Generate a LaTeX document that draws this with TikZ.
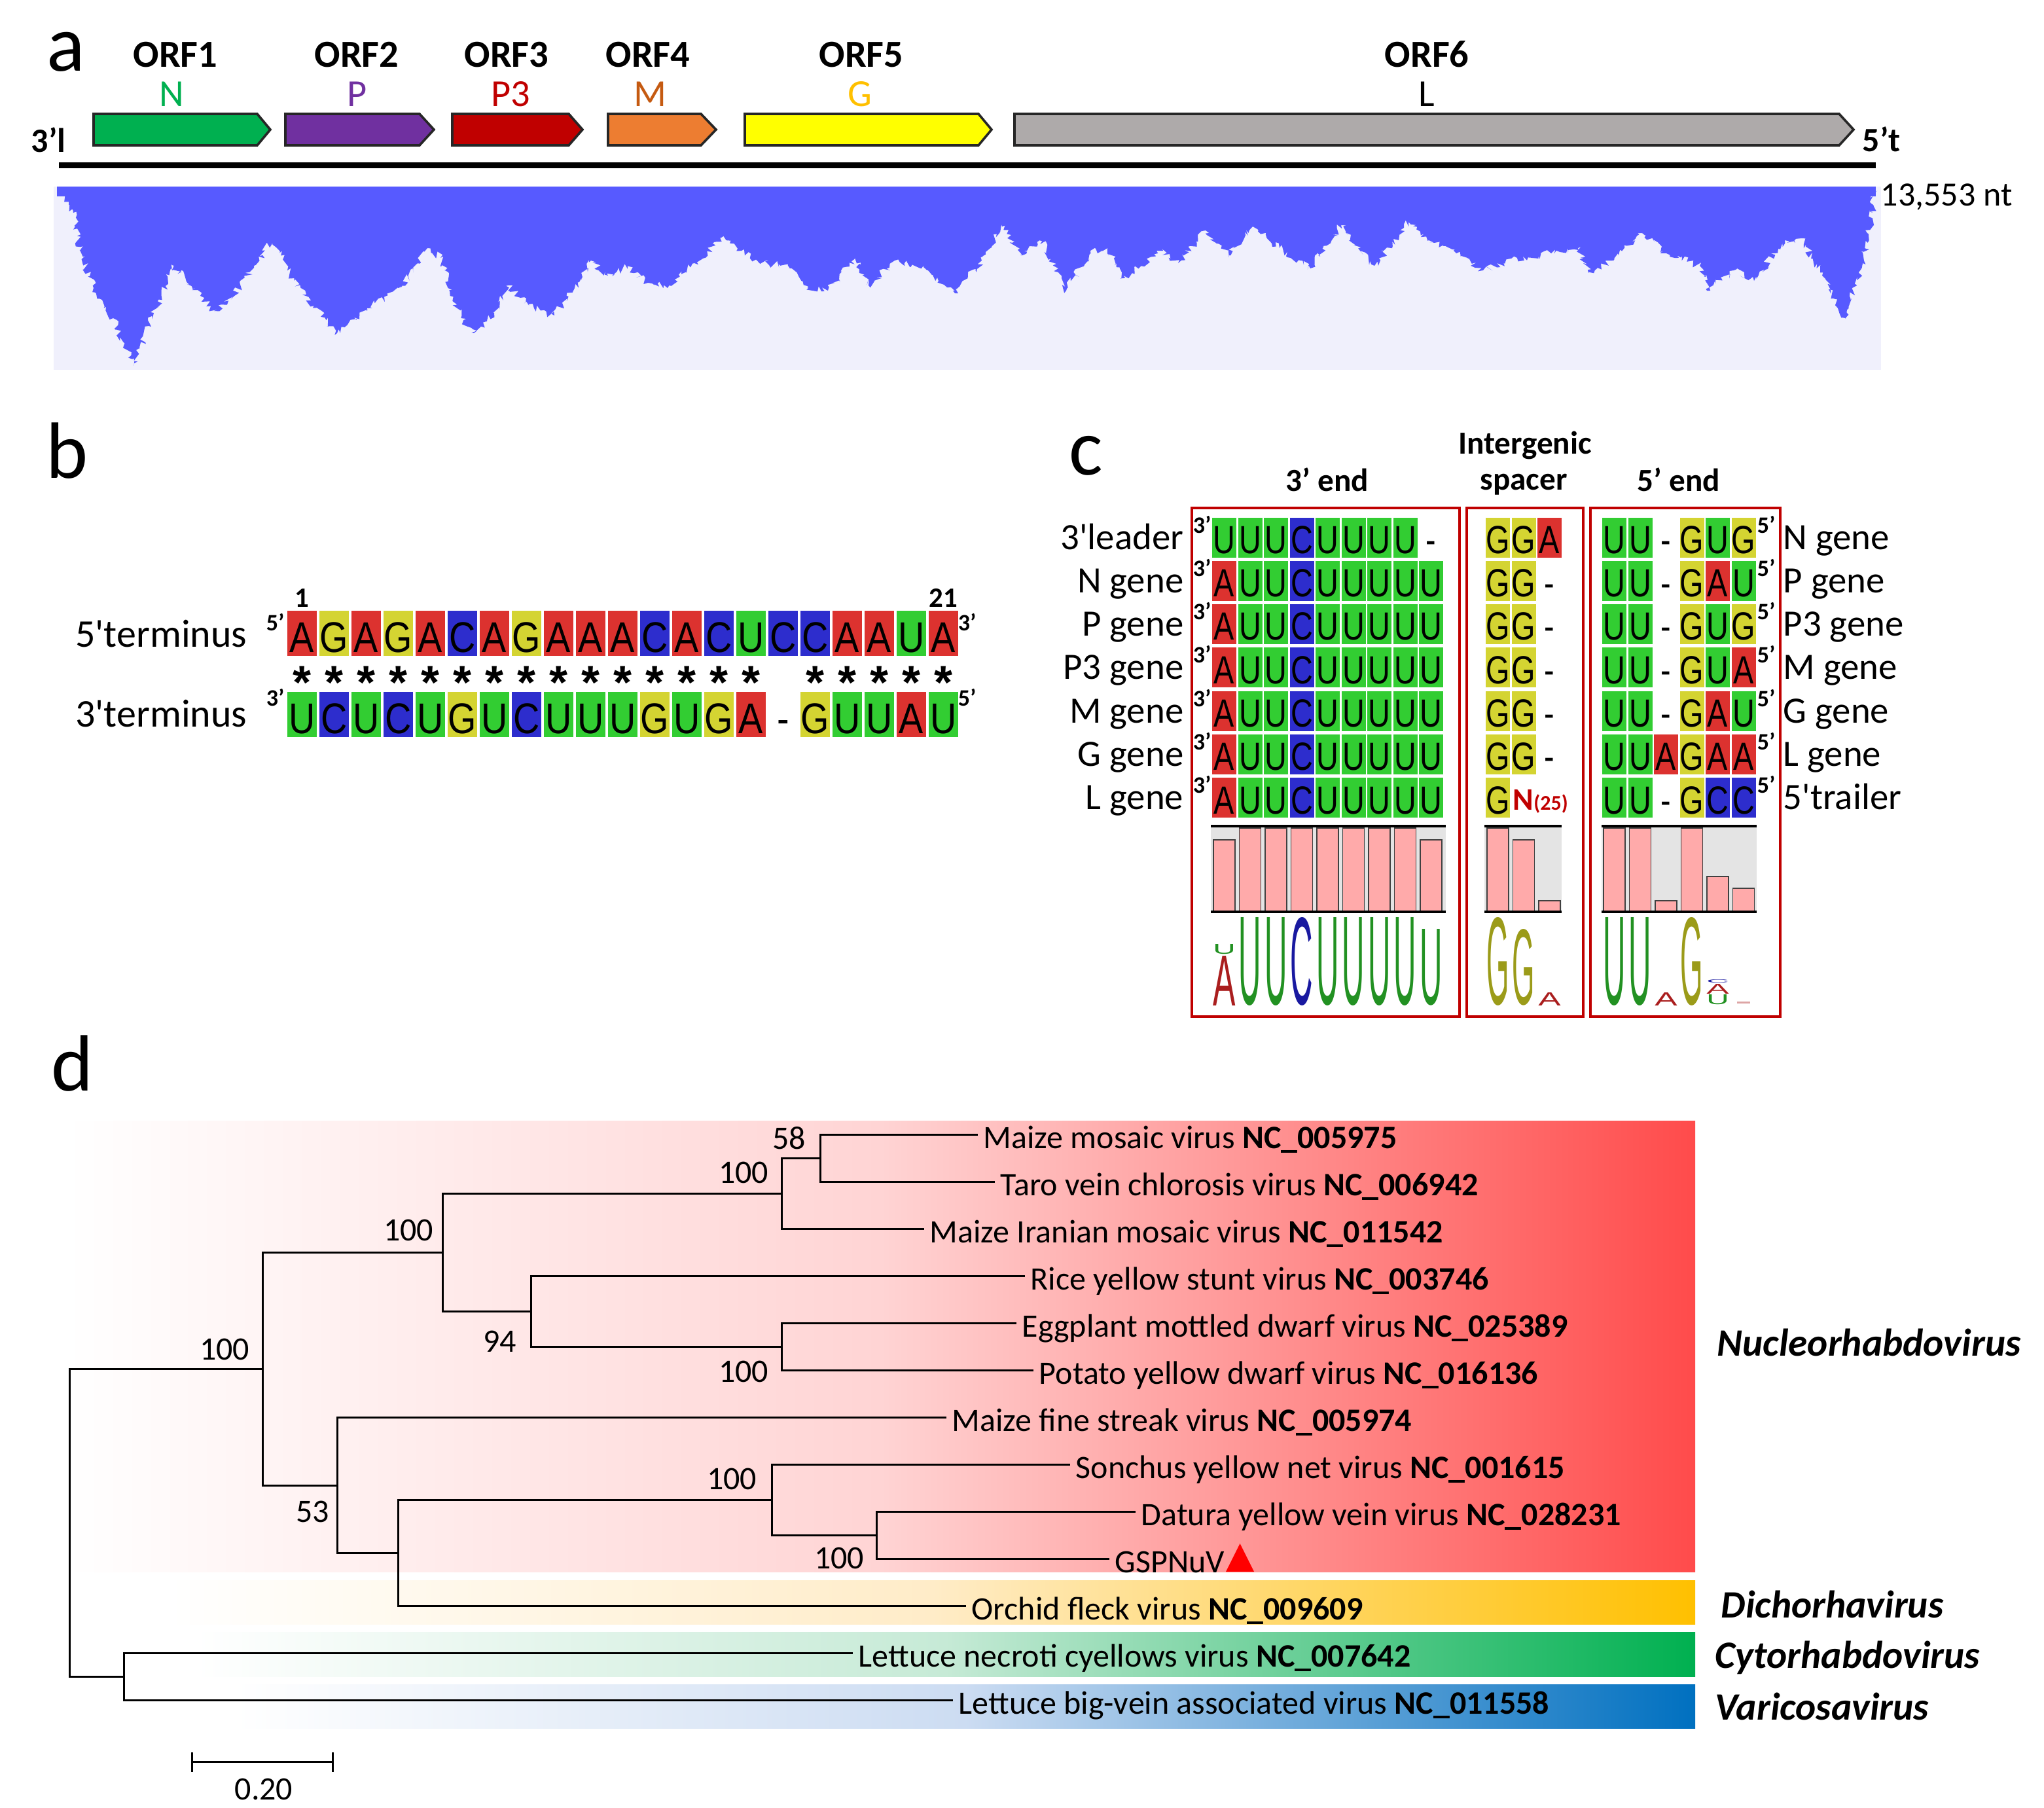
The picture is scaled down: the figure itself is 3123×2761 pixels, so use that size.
\documentclass[tikz,border=0pt]{standalone}
\usepackage{fontspec}
\setmainfont{Carlito}
\newfontfamily\seqfont{Liberation Sans}
\usepackage{graphicx}
\usetikzlibrary{decorations.pathmorphing}

\definecolor{colA}{RGB}{220,50,47}
\definecolor{colG}{RGB}{212,212,50}
\definecolor{colC}{RGB}{45,45,205}
\definecolor{colU}{RGB}{50,205,50}
\definecolor{colx}{RGB}{255,255,255}
\definecolor{gN}{RGB}{0,176,80}
\definecolor{gP}{RGB}{112,48,160}
\definecolor{gPthree}{RGB}{192,0,0}
\definecolor{gM}{RGB}{197,90,17}
\definecolor{gG}{RGB}{255,192,0}
\definecolor{arN}{RGB}{0,176,80}
\definecolor{arP}{RGB}{112,48,160}
\definecolor{arPthree}{RGB}{192,0,0}
\definecolor{arM}{RGB}{237,125,49}
\definecolor{arG}{RGB}{255,255,0}
\definecolor{arL}{RGB}{174,170,170}
\definecolor{covbg}{RGB}{240,240,252}
\definecolor{covblue}{RGB}{87,90,255}
\definecolor{boxred}{RGB}{192,0,0}
\definecolor{barpink}{RGB}{255,170,170}
\definecolor{bargray}{RGB}{228,228,228}
\definecolor{lgU}{RGB}{34,145,34}
\definecolor{lgC}{RGB}{25,25,160}
\definecolor{lgA}{RGB}{170,30,30}
\definecolor{lgG}{RGB}{155,155,25}
\definecolor{nucR}{RGB}{255,75,75}
\definecolor{nucM}{RGB}{255,212,212}
\definecolor{dicR}{RGB}{255,192,0}
\definecolor{dicM}{RGB}{255,236,200}
\definecolor{cytR}{RGB}{0,176,80}
\definecolor{cytM}{RGB}{198,234,214}
\definecolor{varR}{RGB}{0,112,192}
\definecolor{varM}{RGB}{204,220,242}

\newcommand\fsz[1]{\fontsize{#1}{#1}\selectfont}
\newcommand\sq[1]{\if#1x-\else#1\fi}
\newcommand\orfarrow[5]{\filldraw[orfbox, fill=#4] (#1,174) -- (#2,174) -- (#3,198) -- (#2,222) -- (#1,222) -- cycle;}
\newcommand\crow[5]{%
 \foreach \L [count=\i] in {#3} {\node[ccell, fill=col\L] (cA#1-\i) at ({1870.5+(\i-1)*39.5},#2) {\scalebox{0.78}[1]{\sq{\L}}};}
 \foreach \L [count=\i] in {#4} {\node[ccell, fill=col\L] (cB#1-\i) at ({2288.5+(\i-1)*39.5},#2) {\scalebox{0.78}[1]{\sq{\L}}};}
 \foreach \L [count=\i] in {#5} {\node[ccell, fill=col\L] (cC#1-\i) at ({2466.5+(\i-1)*39.5},#2) {\scalebox{0.78}[1]{\sq{\L}}};}
 \node[supr] (sa#1) at (1822,#2-7) {3’};
 \node[supr] (sb#1) at (2684,#2-7) {5’};
}
\newcommand\logo[6]{\node[logost, text=#5] (#1) at (#2,#3) {\resizebox{8.6pt}{#4pt}{\seqfont #6}};}

\tikzset{
 panel/.style={anchor=base west, inner sep=0pt, font=\fsz{30.5}},
 orf/.style={anchor=base, inner sep=0pt, font=\bfseries\fsz{14.6}},
 gene/.style={anchor=base, inner sep=0pt, font=\fsz{14.6}},
 orfbox/.style={draw=black!85, line width=0.9pt},
 endlab/.style={anchor=base west, inner sep=0pt, font=\bfseries\fsz{13}},
 bcell/.style={inner sep=0pt, minimum width=11.25pt, minimum height=17.25pt, font=\seqfont\fsz{16.4}, text height=14.7pt, text depth=0pt},
 ccell/.style={inner sep=0pt, minimum width=9.25pt, minimum height=15.25pt, font=\seqfont\fsz{15}, text height=12.1pt, text depth=0pt},
 supr/.style={anchor=base west, inner sep=0pt, font=\bfseries\fsz{9}},
 blab/.style={anchor=base east, inner sep=0pt, font=\fsz{15}},
 clab/.style={anchor=base east, inner sep=0pt, font=\fsz{14.2}},
 crlab/.style={anchor=base west, inner sep=0pt, font=\fsz{14.2}},
 chead/.style={anchor=base, inner sep=0pt, font=\bfseries\fsz{12.3}},
 astk/.style={anchor=north, inner sep=0pt, font=\seqfont\bfseries\fsz{18}},
 redbox/.style={draw=boxred, line width=1pt},
 cbar/.style={fill=barpink, draw=black!75, line width=0.4pt},
 logost/.style={anchor=south, inner sep=0pt},
 tree/.style={line width=0.75pt, line cap=rect},
 leaf/.style={anchor=west, inner xsep=2.5pt, inner ysep=0pt, font=\fsz{12.5}, text height=13pt, text depth=2.5pt},
 boot/.style={anchor=base east, inner sep=0pt, font=\fsz{12.5}},
 clade/.style={anchor=base west, inner sep=0pt, font=\bfseries\itshape\fsz{14.8}},
}

\begin{document}
\begin{tikzpicture}[x=0.25pt,y=-0.25pt, line join=miter]
\useasboundingbox (0,0) rectangle (3123,2761);
\fill[white] (0,0) rectangle (3123,2761);

% ---------- panel letters
\node[panel] (la) at (71,109) {a};
\node[panel] (lb) at (70,730) {b};
\node[panel] (lc) at (1633,725) {c};
\node[panel] (ld) at (78,1666) {d};

% ---------- panel a
\foreach \k/\x in {1/268,2/545,3/774,4/990,5/1316,6/2180} \node[orf] (orf\k) at (\x,103) {ORF\k};
\node[gene, text=gN] (gnN) at (262,163) {N};
\node[gene, text=gP] (gnP) at (546,163) {P};
\node[gene, text=gPthree] (gnP3) at (780,163) {P3};
\node[gene, text=gM] (gnM) at (993,163) {M};
\node[gene, text=gG] (gnG) at (1314,163) {G};
\node[gene] (gnL) at (2180,163) {L};

\orfarrow{143}{393}{413}{arN}{}
\orfarrow{436}{641}{663}{arP}{}
\orfarrow{691}{869}{890}{arPthree}{}
\orfarrow{929}{1071}{1094}{arM}{}
\orfarrow{1138}{1495}{1515}{arG}{}
\orfarrow{1550}{2810}{2832}{arL}{}

\node[endlab] (l3) at (47,233) {3’l};
\node[endlab] (t5) at (2845,232) {5’t};
\draw[line width=2.25pt] (90,252) -- (2866,252);

\fill[covbg] (82,285) rectangle (2874,565);
\pgfmathsetseed{7}
\fill[covblue, decorate, decoration={random steps, segment length=0.9pt, amplitude=1.5pt}]
 (87,287) -- (112,325) -- (122,383) -- (143,440) -- (173,486) -- (204,559) -- (235,478) -- (265,406) -- (306,452) -- (327,475) -- (357,452) -- (388,406) -- (418,367) -- (449,429) -- (480,467) -- (515,509) -- (561,471) -- (612,440) -- (653,379) -- (673,394) -- (704,486) -- (724,509) -- (755,478) -- (776,436) -- (816,471) -- (847,482) -- (878,440) -- (903,398) -- (929,421) -- (959,406) -- (990,432) -- (1020,440) -- (1061,402) -- (1107,360) -- (1133,383) -- (1163,402) -- (1204,406) -- (1235,440) -- (1265,444) -- (1306,394) -- (1327,436) -- (1367,398) -- (1418,413) -- (1459,448) -- (1500,398) -- (1531,346) -- (1562,390) -- (1593,367) -- (1629,444) -- (1666,383) -- (1692,379) -- (1717,425) -- (1769,383) -- (1800,402) -- (1842,352) -- (1878,390) -- (1914,346) -- (1955,379) -- (2002,410) -- (2049,344) -- (2100,406) -- (2152,339) -- (2183,367) -- (2225,387) -- (2266,413) -- (2318,394) -- (2370,387) -- (2411,379) -- (2427,417) -- (2473,390) -- (2509,356) -- (2546,387) -- (2597,406) -- (2608,444) -- (2649,413) -- (2680,429) -- (2727,367) -- (2753,364) -- (2784,421) -- (2820,486) -- (2846,402) -- (2861,325) -- (2864,287) -- cycle;
\fill[white] (80,262) rectangle (2878,285);
\fill[covblue] (87,285) rectangle (2866,300);
\node[anchor=base west, inner sep=0pt, font=\fsz{13}] (len) at (2873,314) {13,553 nt};

% ---------- panel b
\node[blab] (t5l) at (378,988) {5\textquotesingle terminus};
\node[blab] (t3l) at (378,1110) {3\textquotesingle terminus};
\node[supr] (b5a) at (406,963) {5’};
\node[supr] (b3a) at (1463,963) {3’};
\node[supr] (b3b) at (406,1078) {3’};
\node[supr] (b5b) at (1463,1078) {5’};
\node[anchor=base, inner sep=0pt, font=\bfseries\fsz{10.7}] (n1) at (461.5,927) {1};
\node[anchor=base, inner sep=0pt, font=\bfseries\fsz{10.7}] (n21) at (1441.5,927) {21};
\foreach \L [count=\i] in {A,G,A,G,A,C,A,G,A,A,A,C,A,C,U,C,C,A,A,U,A}
  \node[bcell, fill=col\L] (ba\i) at ({461.5+(\i-1)*49},967.5) {\scalebox{0.85}[1]{\sq{\L}}};
\foreach \L [count=\i] in {U,C,U,C,U,G,U,C,U,U,U,G,U,G,A,x,G,U,U,A,U}
  \node[bcell, fill=col\L] (bb\i) at ({461.5+(\i-1)*49},1091.5) {\scalebox{0.85}[1]{\sq{\L}}};
\foreach \i in {1,...,15,17,18,19,20,21}
  \node[astk] (st\i) at ({461.5+(\i-1)*49},1017) {*};

% ---------- panel c
\node[chead] (h1) at (2330,693) {Intergenic};
\node[chead] (h2) at (2328,748) {spacer};
\node[chead] (h3) at (2028,750) {3’ end};
\node[chead] (h4) at (2565,750) {5’ end};
\draw[redbox] (1821,776) rectangle (2230,1553);
\draw[redbox] (2241,776) rectangle (2419,1553);
\draw[redbox] (2430,776) rectangle (2720,1553);

\crow{1}{821}{U,U,U,C,U,U,U,U,x}{G,G,A}{U,U,x,G,U,G}
\crow{2}{887.3}{A,U,U,C,U,U,U,U,U}{G,G,x}{U,U,x,G,A,U}
\crow{3}{953.6}{A,U,U,C,U,U,U,U,U}{G,G,x}{U,U,x,G,U,G}
\crow{4}{1019.9}{A,U,U,C,U,U,U,U,U}{G,G,x}{U,U,x,G,U,A}
\crow{5}{1086.2}{A,U,U,C,U,U,U,U,U}{G,G,x}{U,U,x,G,A,U}
\crow{6}{1152.5}{A,U,U,C,U,U,U,U,U}{G,G,x}{U,U,A,G,A,A}
\crow{7}{1218.8}{A,U,U,C,U,U,U,U,U}{G}{U,U,x,G,C,C}
\node[anchor=base west, inner sep=0pt, text=boxred, font=\bfseries\fsz{12}] (n25) at (2311,1237) {N{\fsz{8}(25)}};

\node[clab] (lr1) at (1809,839) {3\textquotesingle leader};
\node[clab] (lr2) at (1809,905.3) {N gene};
\node[clab] (lr3) at (1809,971.6) {P gene};
\node[clab] (lr4) at (1809,1037.9) {P3 gene};
\node[clab] (lr5) at (1809,1104.2) {M gene};
\node[clab] (lr6) at (1809,1170.5) {G gene};
\node[clab] (lr7) at (1809,1236.8) {L gene};
\node[crlab] (rr1) at (2724,839) {N gene};
\node[crlab] (rr2) at (2724,905.3) {P gene};
\node[crlab] (rr3) at (2724,971.6) {P3 gene};
\node[crlab] (rr4) at (2724,1037.9) {M gene};
\node[crlab] (rr5) at (2724,1104.2) {G gene};
\node[crlab] (rr6) at (2724,1170.5) {L gene};
\node[crlab] (rr7) at (2724,1236.8) {5\textquotesingle trailer};

% bars
\fill[bargray] (1850,1262) rectangle (2209,1393);
\fill[bargray] (2268,1262) rectangle (2386,1393);
\fill[bargray] (2447,1262) rectangle (2684,1393);
\foreach \i/\t in {1/1283,2/1265,3/1265,4/1265,5/1265,6/1265,7/1265,8/1265,9/1283}
  \filldraw[cbar] ({1854+(\i-1)*39.5},\t) rectangle ({1887+(\i-1)*39.5},1393);
\foreach \i/\t in {1/1265,2/1283,3/1376}
  \filldraw[cbar] ({2272+(\i-1)*39.5},\t) rectangle ({2305+(\i-1)*39.5},1393);
\foreach \i/\t in {1/1265,2/1265,3/1376,4/1265,5/1339,6/1357}
  \filldraw[cbar] ({2450+(\i-1)*39.5},\t) rectangle ({2483+(\i-1)*39.5},1393);
\draw[line width=1pt] (1850,1262) -- (2209,1262) (1850,1393) -- (2209,1393);
\draw[line width=1pt] (2268,1262) -- (2386,1262) (2268,1393) -- (2386,1393);
\draw[line width=1pt] (2447,1262) -- (2684,1262) (2447,1393) -- (2684,1393);

% logos
\logo{q1a}{1870.5}{1537}{19}{lgA}{A}
\logo{q1b}{1870.5}{1458}{3.75}{lgU}{U}
\logo{q2}{1910}{1537}{33.25}{lgU}{U}
\logo{q3}{1949.5}{1537}{33.25}{lgU}{U}
\logo{q4}{1989}{1537}{33.25}{lgC}{C}
\logo{q5}{2028.5}{1537}{33.25}{lgU}{U}
\logo{q6}{2068}{1537}{33.25}{lgU}{U}
\logo{q7}{2107.5}{1537}{33.25}{lgU}{U}
\logo{q8}{2147}{1537}{33.25}{lgU}{U}
\logo{q9}{2186.5}{1537}{28.75}{lgU}{U}
\logo{r1}{2288.5}{1537}{33.25}{lgG}{G}
\logo{r2}{2328}{1537}{28.75}{lgG}{G}
\logo{r3}{2367.5}{1537}{5}{lgA}{A}
\logo{p1}{2466.5}{1537}{33.25}{lgU}{U}
\logo{p2}{2506}{1537}{33.25}{lgU}{U}
\logo{p3}{2545.5}{1537}{5}{lgA}{A}
\logo{p4}{2585}{1537}{33.25}{lgG}{G}
\logo{p5a}{2624.5}{1535}{3.75}{lgU}{U}
\logo{p5b}{2624.5}{1519}{3.75}{lgA}{A}
\logo{p5c}{2624.5}{1502}{1.25}{lgC}{C}
\fill[lgA!40] (2654,1530) rectangle (2674,1533);

% ---------- panel d
\shade[left color=white, right color=nucR, middle color=nucM] (100,1712) rectangle (2590,2401);
\shade[left color=white, right color=dicR, middle color=dicM] (259,2414) rectangle (2590,2481);
\shade[left color=white, right color=cytR, middle color=cytM] (299,2493) rectangle (2590,2561);
\shade[left color=white, right color=varR, middle color=varM] (358,2573) rectangle (2590,2640);

\coordinate (R) at (106,2326);
\coordinate (A) at (401,2091);
\coordinate (B) at (676,1913);
\coordinate (C) at (1194,1823);
\coordinate (D) at (1253,1769);
\coordinate (E) at (811,2003);
\coordinate (F) at (1194,2057);
\coordinate (G) at (515,2269);
\coordinate (H) at (608,2372);
\coordinate (I) at (1179,2291);
\coordinate (J) at (1339,2345);
\coordinate (K) at (189,2561);

\node[leaf] (v1) at (1492,1733) {Maize mosaic virus \textbf{NC\_005975}};
\node[leaf] (v2) at (1518,1805) {Taro vein chlorosis virus \textbf{NC\_006942}};
\node[leaf] (v3) at (1410,1877) {Maize Iranian mosaic virus \textbf{NC\_011542}};
\node[leaf] (v4) at (1564,1949) {Rice yellow stunt virus \textbf{NC\_003746}};
\node[leaf] (v5) at (1551,2021) {Eggplant mottled dwarf virus \textbf{NC\_025389}};
\node[leaf] (v6) at (1577,2093) {Potato yellow dwarf virus \textbf{NC\_016136}};
\node[leaf] (v7) at (1444,2165) {Maize fine streak virus \textbf{NC\_005974}};
\node[leaf] (v8) at (1633,2237) {Sonchus yellow net virus \textbf{NC\_001615}};
\node[leaf] (v9) at (1733,2309) {Datura yellow vein virus \textbf{NC\_028231}};
\node[leaf] (v10) at (1693,2381) {GSPNuV};
\node[leaf] (v11) at (1474,2453) {Orchid fleck virus \textbf{NC\_009609}};
\node[leaf] (v12) at (1301,2525) {Lettuce necroti cyellows virus \textbf{NC\_007642}};
\node[leaf] (v13) at (1454,2597) {Lettuce big-vein associated virus \textbf{NC\_011558}};
\fill[red] (1873,2401) -- (1894.5,2358) -- (1916,2401) -- cycle;

\draw[tree] (R) |- (A);
\draw[tree] (R) |- (K);
\draw[tree] (A) |- (B);
\draw[tree] (A) |- (G);
\draw[tree] (B) |- (C);
\draw[tree] (B) |- (E);
\draw[tree] (C) |- (D);
\draw[tree] (C) |- (v3.west);
\draw[tree] (D) |- (v1.west);
\draw[tree] (D) |- (v2.west);
\draw[tree] (E) |- (v4.west);
\draw[tree] (E) |- (F);
\draw[tree] (F) |- (v5.west);
\draw[tree] (F) |- (v6.west);
\draw[tree] (G) |- (v7.west);
\draw[tree] (G) |- (H);
\draw[tree] (H) |- (I);
\draw[tree] (H) |- (v11.west);
\draw[tree] (I) |- (v8.west);
\draw[tree] (I) |- (J);
\draw[tree] (J) |- (v9.west);
\draw[tree] (J) |- (v10.west);
\draw[tree] (K) |- (v12.west);
\draw[tree] (K) |- (v13.west);

\node[boot] (bA) at (382,2077) {100};
\node[boot] (bB) at (663,1895) {100};
\node[boot] (bC) at (1175,1807) {100};
\node[boot] (bD) at (1232,1755) {58};
\node[boot] (bE) at (790,2065) {94};
\node[boot] (bF) at (1175,2111) {100};
\node[boot] (bG) at (504,2325) {53};
\node[boot] (bI) at (1157,2275) {100};
\node[boot] (bJ) at (1321,2396) {100};

\node[clade] (k1) at (2623,2071) {Nucleorhabdovirus};
\node[clade] (k2) at (2629,2471) {Dichorhavirus};
\node[clade] (k3) at (2620,2548) {Cytorhabdovirus};
\node[clade] (k4) at (2620,2627) {Varicosavirus};

\coordinate (sb1) at (293,2691);
\coordinate (sb2) at (508,2691);
\draw[tree] (sb1) -- (sb2);
\draw[tree] (293,2678) -- (293,2705);
\draw[tree] (508,2678) -- (508,2705);
\node[anchor=base, inner sep=0pt, font=\fsz{12.5}] (sbl) at (403,2749) {0.20};
\end{tikzpicture}
\end{document}
